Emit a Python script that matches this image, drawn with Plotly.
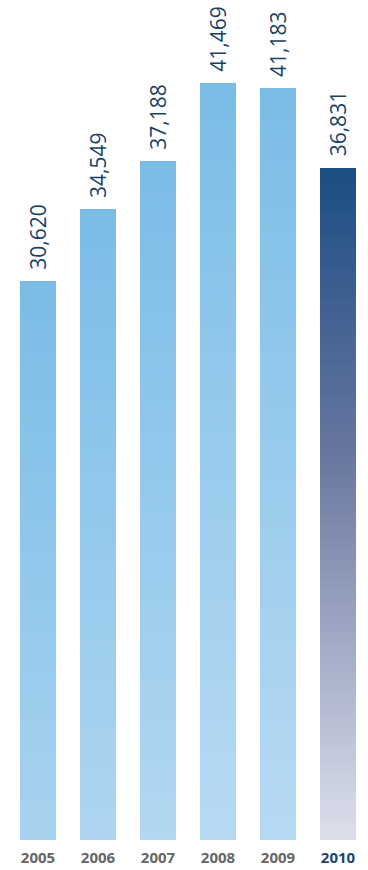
import plotly.graph_objects as go

years = ["2005", "2006", "2007", "2008", "2009", "2010"]
values = [30620, 34549, 37188, 41469, 41183, 36831]
labels = ["30,620", "34,549", "37,188", "41,469", "41,183", "36,831"]
highlight = [False, False, False, False, False, True]

N = 120  # gradient slices per bar
light_stops = [(0.0, (122, 188, 230)), (1.0, (184, 218, 243))]
dark_stops = [(0.0, (27, 77, 131)), (0.42, (103, 118, 159)), (1.0, (221, 224, 236))]
ramp_len = max(values)


def interp(stops, t):
    t = min(max(t, 0.0), 1.0)
    for (t0, c0), (t1, c1) in zip(stops[:-1], stops[1:]):
        if t <= t1:
            f = (t - t0) / (t1 - t0) if t1 > t0 else 0
            c = [round(a + (b - a) * f) for a, b in zip(c0, c1)]
            return "rgb(%d,%d,%d)" % tuple(c)
    c = stops[-1][1]
    return "rgb(%d,%d,%d)" % tuple(c)


fig = go.Figure()
for k in range(N):
    cols = []
    for v, hl in zip(values, highlight):
        dist = v * (1 - (k + 0.5) / N)  # distance from bar top
        if hl:
            cols.append(interp(dark_stops, dist / v))
        else:
            cols.append(interp(light_stops, dist / ramp_len))
    fig.add_trace(go.Bar(
        x=years, y=[v / N for v in values],
        marker=dict(color=cols, line=dict(width=0)),
        hoverinfo="skip", showlegend=False,
    ))

for i, (v, lab) in enumerate(zip(values, labels)):
    fig.add_annotation(
        x=i, y=v, text=lab, textangle=-90, showarrow=False,
        xanchor="center", yanchor="bottom", yshift=9,
        font=dict(family="Open Sans", size=21, color="#1c3f68"),
    )

ticktext = []
for yr, hl in zip(years, highlight):
    if hl:
        ticktext.append('<b><span style="color:#1b4472">%s</span></b>' % yr)
    else:
        ticktext.append("<b>%s</b>" % yr)

fig.update_layout(
    width=368, height=870,
    margin=dict(l=8, r=0, t=0, b=30),
    barmode="stack", bargap=0.4,
    plot_bgcolor="white", paper_bgcolor="white",
    xaxis=dict(
        type="category", tickvals=years, ticktext=ticktext,
        tickfont=dict(family="Open Sans", size=15, color="#666666"),
        showgrid=False, zeroline=False, showline=False, ticks="",
        ticklabelstandoff=7,
        range=[-0.5, 5.5],
    ),
    yaxis=dict(
        range=[0, 46027], visible=False, showgrid=False, zeroline=False,
    ),
)

fig.write_html(
    "out.html",
    config={"displayModeBar": False},
    post_script="document.body.style.margin='0';document.body.style.overflow='hidden';",
)
